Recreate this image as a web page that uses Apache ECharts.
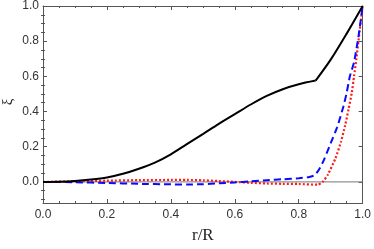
<!DOCTYPE html>
<html>
<head>
<meta charset="utf-8">
<script src="https://cdn.jsdelivr.net/npm/echarts@6/dist/echarts.min.js"></script>
<style>html,body{margin:0;padding:0;background:#fff}#c{width:374px;height:249px}</style>
</head>
<body>
<div id="c"></div>
<script>
// Data
var rBlack  = [0, 0.05, 0.1, 0.15, 0.2, 0.25, 0.3, 0.35, 0.4, 0.45, 0.5, 0.55, 0.6, 0.65, 0.7, 0.75, 0.8, 0.853, 0.9, 0.95, 1.0];
var xiBlack = [0, 0.001, 0.005, 0.013, 0.025, 0.046, 0.075, 0.11, 0.157, 0.215, 0.272, 0.33, 0.385, 0.44, 0.489, 0.527, 0.555, 0.576, 0.695, 0.843, 1.0];
var kinkIndex = 17; // index of the kink in the black curve

var rBlue  = [0, 0.1, 0.2, 0.3, 0.4, 0.45, 0.5, 0.55, 0.6, 0.65, 0.7, 0.75, 0.8, 0.83, 0.85, 0.865, 0.88, 0.9, 0.92, 0.94, 0.95, 0.96, 0.973, 0.988, 1.0];
var xiBlue = [0, -0.002, -0.006, -0.011, -0.014, -0.015, -0.013, -0.008, -0.003, 0.003, 0.009, 0.015, 0.021, 0.027, 0.038, 0.075, 0.13, 0.22, 0.31, 0.43, 0.507, 0.6, 0.68, 0.84, 1.0];

var rRed  = [0, 0.1, 0.2, 0.3, 0.4, 0.45, 0.5, 0.55, 0.6, 0.65, 0.7, 0.75, 0.8, 0.86, 0.875, 0.891, 0.915, 0.932, 0.945, 0.956, 0.966, 0.973, 0.98, 0.99, 1.0];
var xiRed = [0, 0.003, 0.007, 0.010, 0.011, 0.011, 0.009, 0.005, 0.0, -0.005, -0.009, -0.011, -0.012, -0.016, 0.0, 0.041, 0.134, 0.228, 0.32, 0.414, 0.507, 0.6, 0.694, 0.85, 1.0];

var yMajor = [0, 0.2, 0.4, 0.6, 0.8, 1.0];
var yMinor = [-0.1, -0.05, 0.05, 0.1, 0.15, 0.25, 0.3, 0.35, 0.45, 0.5, 0.55, 0.65, 0.7, 0.75, 0.85, 0.9, 0.95];
var xName = 'r/R';
var yName = 'ξ';

function pairs(xs, ys) { return xs.map(function (x, i) { return [x, ys[i]]; }); }
var blackPts = pairs(rBlack, xiBlack);

var frame = '#555';
var chart = echarts.init(document.getElementById('c'), null, {renderer: 'canvas'});
var xBase = {
  type: 'value', min: 0, max: 1, interval: 0.2,
  axisLine: {show: true, onZero: false, lineStyle: {color: frame, width: 1}},
  axisTick: {show: true, inside: true, length: 4, lineStyle: {color: frame}},
  minorTick: {show: true, splitNumber: 4, length: 2, lineStyle: {color: frame}},
  splitLine: {show: false}
};
var yBase = {
  type: 'value', min: -0.12, max: 1,
  axisLine: {show: true, onZero: false, lineStyle: {color: frame, width: 1}},
  splitLine: {show: false}
};
var labelFont = {fontFamily: 'Liberation Sans', fontSize: 12, color: '#333'};
chart.setOption({
  animation: false,
  grid: {left: 43, right: 7, top: 5, bottom: 44},
  graphic: [{
    type: 'text', x: 8, y: 102, rotation: Math.PI / 2,
    style: {text: yName, font: '15px "Liberation Serif"', fill: '#222', align: 'center', verticalAlign: 'middle'}
  }],
  xAxis: [
    Object.assign({}, xBase, {
      position: 'bottom',
      name: xName, nameLocation: 'middle', nameGap: 24,
      nameTextStyle: {fontFamily: 'Liberation Serif', fontSize: 17, color: '#222'},
      axisLabel: Object.assign({show: true, margin: 6,
        formatter: function (v) { return v.toFixed(1); }}, labelFont)
    }),
    Object.assign({}, xBase, {position: 'top', axisLabel: {show: false}})
  ],
  yAxis: [
    Object.assign({}, yBase, {
      position: 'left',
      axisTick: {show: true, inside: true, length: 4, customValues: yMajor, lineStyle: {color: frame}},
      axisLabel: Object.assign({show: true, margin: 4, customValues: yMajor,
        formatter: function (v) { return v.toFixed(1); }}, labelFont)
    }),
    Object.assign({}, yBase, {
      position: 'right',
      axisTick: {show: true, inside: true, length: 4, customValues: yMajor, lineStyle: {color: frame}},
      axisLabel: {show: false}
    }),
    Object.assign({}, yBase, {
      position: 'left', axisLine: {show: false},
      axisTick: {show: true, inside: true, length: 2, customValues: yMinor, lineStyle: {color: frame}},
      axisLabel: {show: false}
    }),
    Object.assign({}, yBase, {
      position: 'right', axisLine: {show: false},
      axisTick: {show: true, inside: true, length: 2, customValues: yMinor, lineStyle: {color: frame}},
      axisLabel: {show: false}
    })
  ],
  series: [
    {
      type: 'line', data: [[0, 0], [1, 0]], symbol: 'none', silent: true,
      lineStyle: {color: '#777', width: 1}, z: 1
    },
    {
      type: 'line', data: blackPts.slice(0, kinkIndex + 1), symbol: 'none', smooth: 0.3,
      lineStyle: {color: '#000', width: 2}, z: 4
    },
    {
      type: 'line', data: blackPts.slice(kinkIndex), symbol: 'none', smooth: 0.3,
      lineStyle: {color: '#000', width: 2}, z: 4
    },
    {
      type: 'line', data: pairs(rBlue, xiBlue), symbol: 'none', smooth: 0.2,
      lineStyle: {color: '#0a0aff', width: 2, type: [7, 4]}, z: 3
    },
    {
      type: 'line', data: pairs(rRed, xiRed), symbol: 'none', smooth: 0.2,
      lineStyle: {color: '#ff1a1a', width: 2.2, type: [2, 2]}, z: 2
    }
  ]
});
</script>
</body>
</html>
